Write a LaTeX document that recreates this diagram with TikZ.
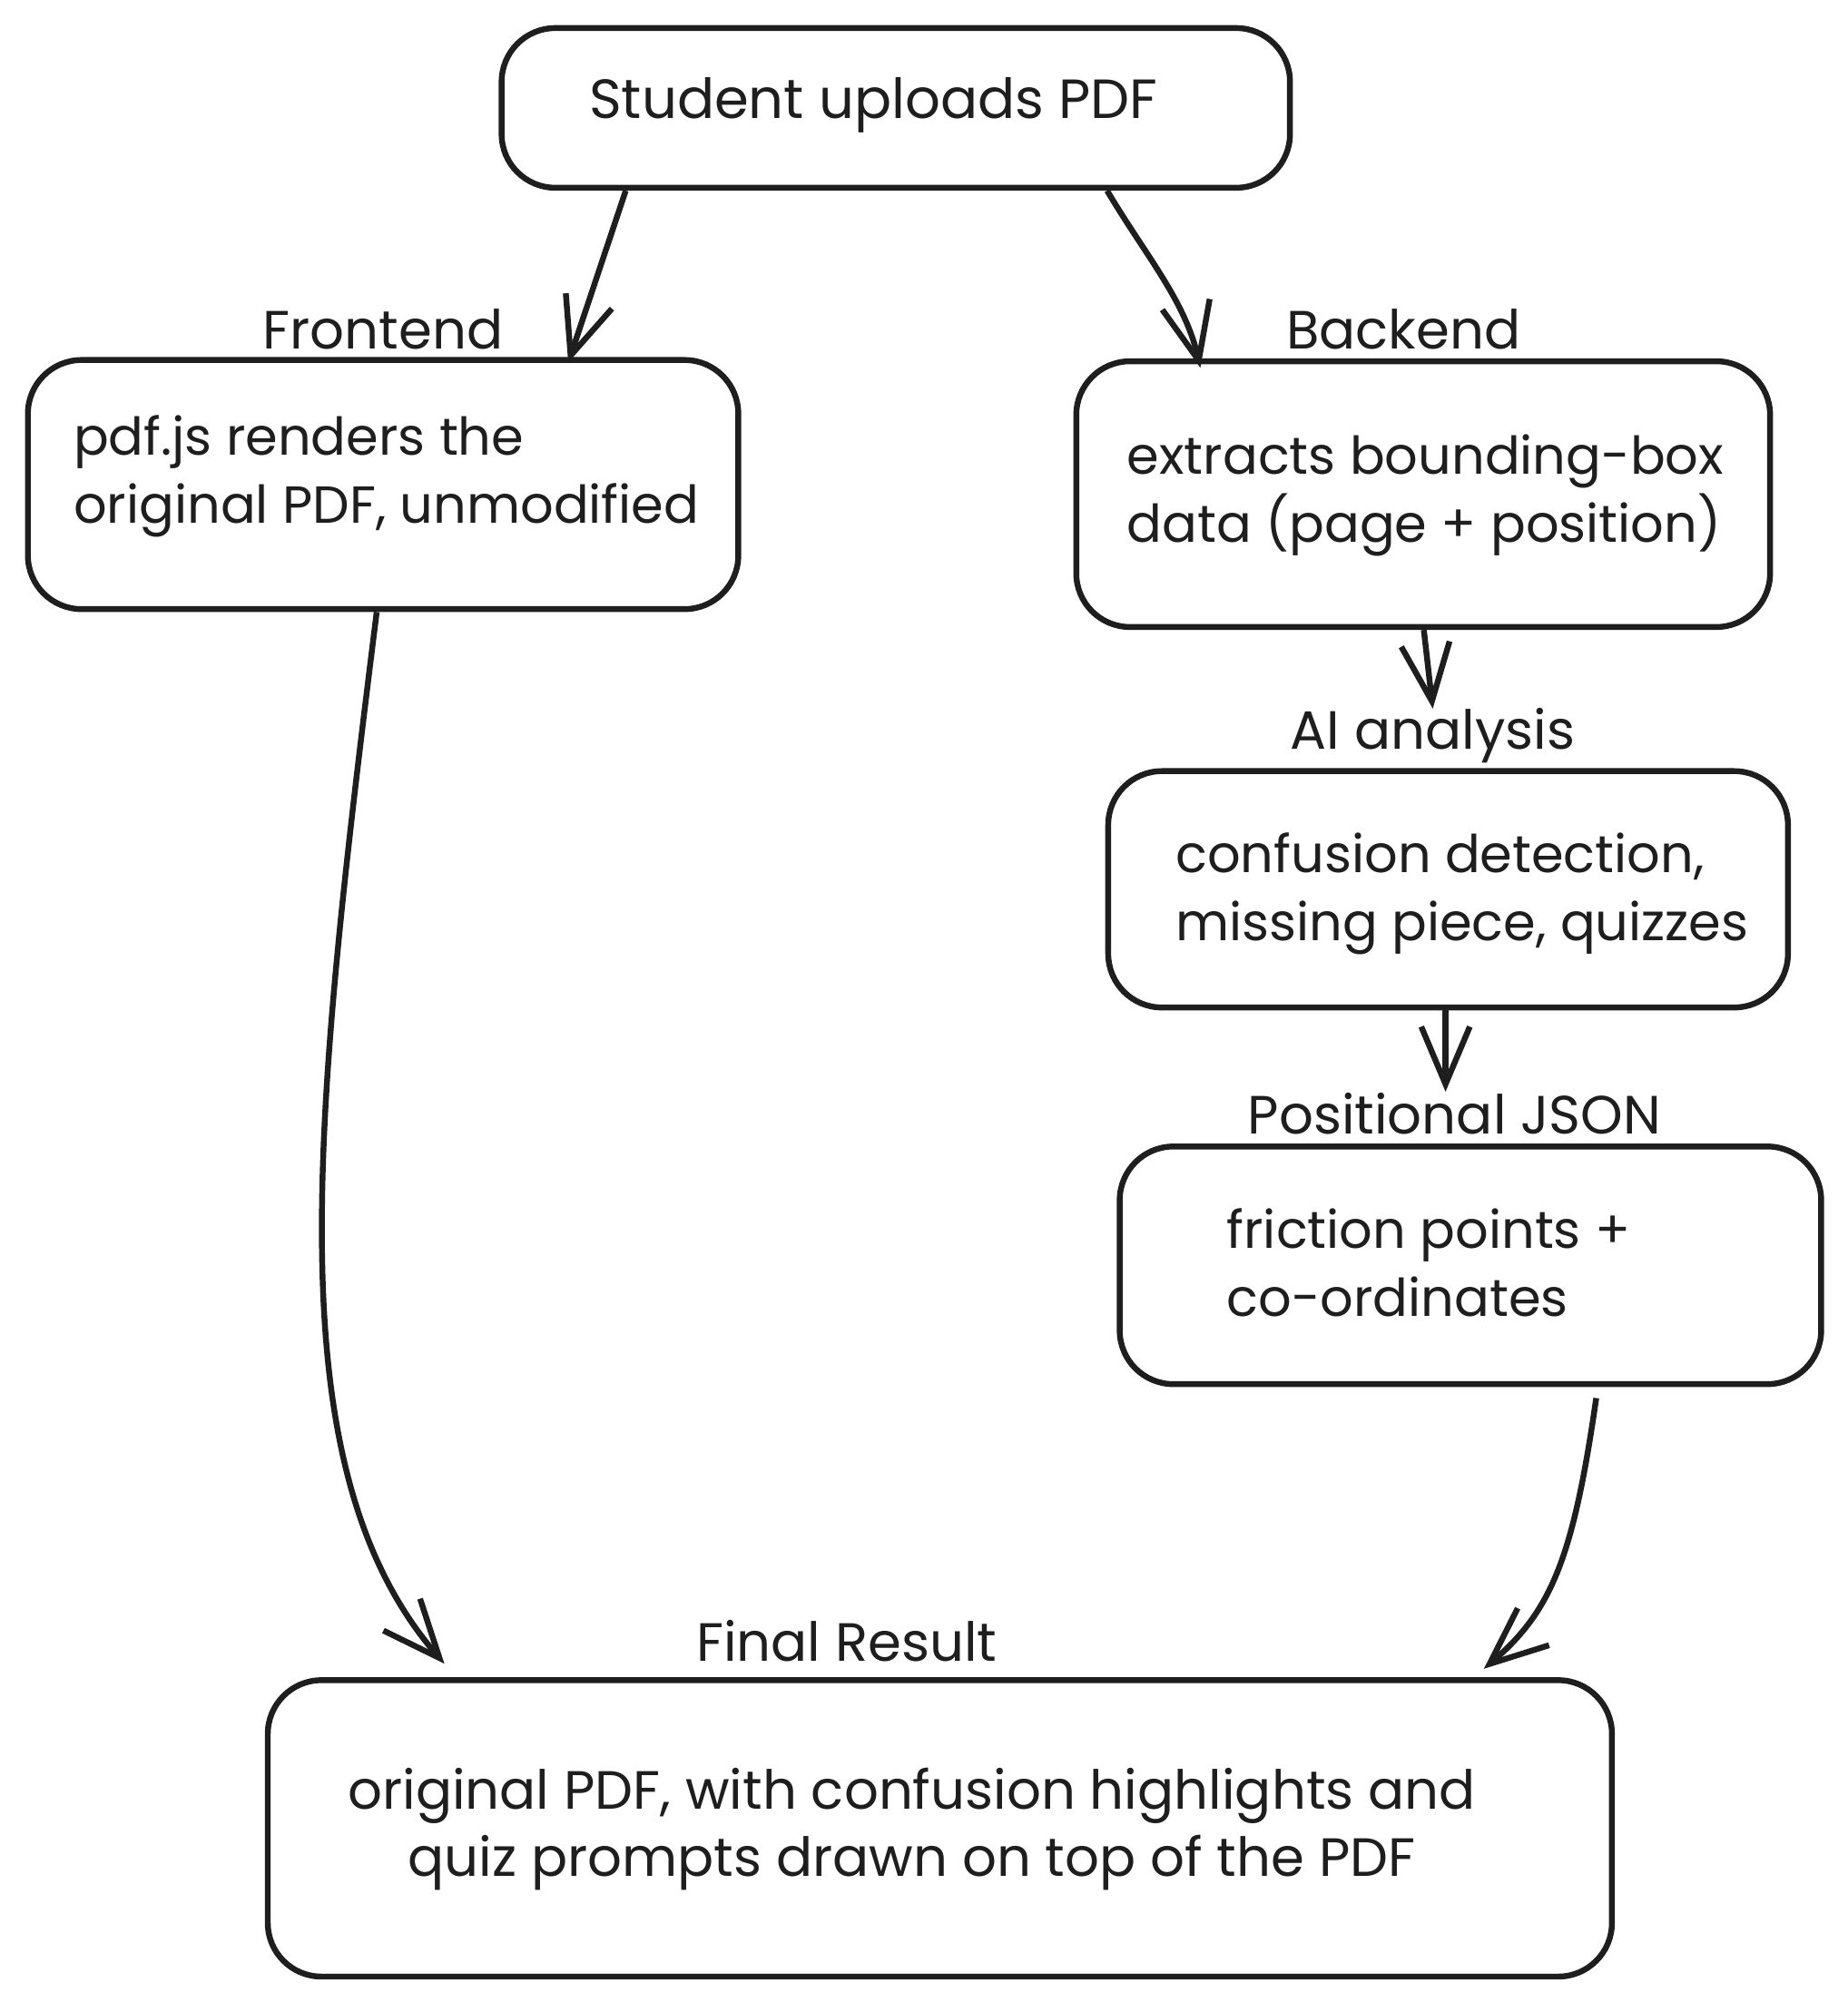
\documentclass[tikz,border=0pt]{standalone}
\usepackage{fontspec}
\setmainfont{Poppins}
\usetikzlibrary{arrows.meta}
\definecolor{ink}{HTML}{1E1E1E}
\begin{document}
\begin{tikzpicture}[x=0.01cm,y=-0.01cm,
  box/.style={draw=ink, line width=1.3pt, rounded corners=0.42cm, inner sep=0pt},
  txt/.style={text=ink, font=\fontsize{11.6}{15}\selectfont, align=left, inner sep=0pt, anchor=west},
  txtc/.style={text=ink, font=\fontsize{12}{15}\selectfont, align=center, inner sep=0pt},
  lbl/.style={text=ink, font=\fontsize{12}{15}\selectfont, inner sep=0pt},
  arr/.style={draw=ink, line width=1.3pt,
    -{Straight Barb[length=4.5mm,width=3.8mm,line width=1.3pt]}}]
\useasboundingbox[fill=white] (0,0) rectangle (1447,1568);

% boxes
\node[box, minimum width=6.17cm, minimum height=1.25cm] (top) at (701.5,84.5) {};
\node[box, minimum width=5.56cm, minimum height=1.95cm] (front) at (300,379.5) {};
\node[box, minimum width=5.43cm, minimum height=2.08cm] (back) at (1114.5,387) {};
\node[box, minimum width=5.32cm, minimum height=1.85cm] (ai) at (1134,696.5) {};
\node[box, minimum width=5.49cm, minimum height=1.86cm] (json) at (1151.5,991) {};
\node[box, minimum width=10.52cm, minimum height=2.32cm] (final) at (736,1432) {};

% box texts
\node[txtc, font=\fontsize{12.3}{15}\selectfont] (toptxt) at (684,82.5) {Student uploads PDF};
\node[txt] (fronttxt) at (57,373) {pdf.js renders the\\original PDF, unmodified};
\node[txt] (backtxt) at (882,388) {extracts bounding-box\\data (page + position)};
\node[txt] (aitxt) at (920,700) {confusion detection,\\missing piece, quizzes};
\node[txt] (jsontxt) at (960,989) {friction points +\\co-ordinates};
\node[txtc] (finaltxt) at (714,1432.5)
  {original PDF, with confusion highlights and\\quiz prompts drawn on top of the PDF};

% labels
\node[lbl] (frontlbl) at (300,258) {Frontend};
\node[lbl] (backlbl) at (1099,258) {Backend};
\node[lbl] (ailbl) at (1122,576) {AI analysis};
\node[lbl] (jsonlbl) at (1139,872) {Positional JSON};
\node[lbl] (finallbl) at (663,1285) {Final Result};

% connector end points
\coordinate (e1) at (445,284);
\coordinate (e2) at (940,288);
\coordinate (e3) at (1122,555);
\coordinate (e4) at (1132,855);
\coordinate (e5) at (348,1303);
\coordinate (e6) at (1162,1307);

% connectors
\draw[arr] (490,0 |- top.south) -- (e1);
\draw[arr] (867,0 |- top.south) .. controls (897,200) and (928,235) .. (e2);
\draw[arr] (1115,0 |- back.south) -- (e3);
\draw[arr] (1132,0 |- ai.south) -- (e4);
\draw[arr] (295,0 |- front.south) .. controls (245,880) and (215,1150) .. (e5);
\draw[arr] (1250,1095) .. controls (1232,1220) and (1215,1262) .. (e6);
\end{tikzpicture}
\end{document}
